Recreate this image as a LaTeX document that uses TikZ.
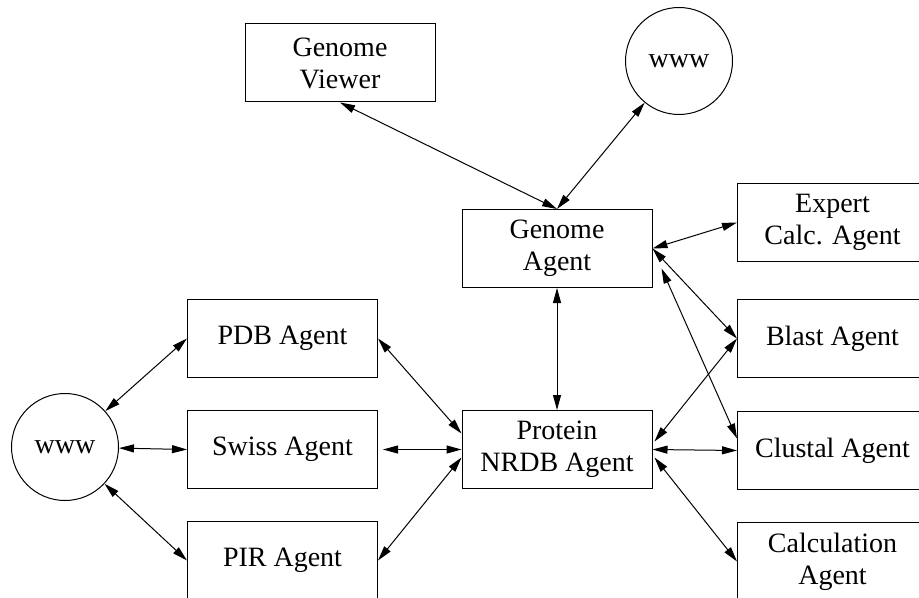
\documentclass[tikz,border=0pt]{standalone}
\usepackage{fontspec}
\setmainfont{Liberation Serif}
\usetikzlibrary{arrows.meta,calc}
\begin{document}
\begin{tikzpicture}[x=.5pt, y=-.5pt, line width=.5pt,
  agent/.style={draw, align=center, minimum width=95pt, minimum height=39pt, inner sep=0pt, font=\fontsize{14}{16}\selectfont},
  web/.style={draw, circle, minimum size=53.5pt, inner sep=0pt, font=\fontsize{14}{16}\selectfont},
  link/.style={{Triangle[length=7.5pt,width=4pt]}-{Triangle[length=7.5pt,width=4pt]}}]
\useasboundingbox (0,0) rectangle (919,598);
\clip (0,0) rectangle (919,598);
\node[web] (wwwleft) at (65,447) {www};
\node[web] (wwwtop) at (679,61) {www};
\node[agent] (viewer) at (340,63) {Genome\\Viewer};
\node[agent] (genome) at (557,248.5) {Genome\\Agent};
\node[agent] (nrdb) at (557,449.5) {Protein\\NRDB Agent};
\node[agent] (pdb) at (282.5,338.5) {PDB Agent};
\node[agent] (swiss) at (282.5,449.5) {Swiss Agent};
\node[agent] (pir) at (282.5,560.5) {PIR Agent};
\node[agent] (expert) at (832.5,222.5) {Expert\\Calc. Agent};
\node[agent] (blast) at (832.5,338.5) {Blast Agent};
\node[agent] (clustal) at (832.5,450.5) {Clustal Agent};
\node[agent] (calc) at (832.5,561.5) {Calculation\\Agent};

\draw[link](viewer.south)--(genome.north);
\draw[link](wwwtop)--(genome.north);
\draw[link](genome.east)--(expert.west);
\draw[link](genome.east)--(blast.west);
\draw[link]($(genome.east)+(9,20)$)--($(clustal.west)+(0,-12)$);
\draw[link](genome.south)--(nrdb.north);
\draw[link]($(nrdb.east)+(2,-8)$)--(blast.west);
\draw[link](nrdb.east)--(clustal.west);
\draw[link]($(nrdb.east)+(2,8)$)--(calc.west);
\draw[link](pdb.east)--($(nrdb.west)+(0,-16)$);
\draw[link, shorten <=2.5pt](swiss.east)--(nrdb.west);
\draw[link](pir.east)--($(nrdb.west)+(0,8)$);
\draw[link](wwwleft)--(pdb.west);
\draw[link](wwwleft)--(swiss.west);
\draw[link](wwwleft)--(pir.west);

\end{tikzpicture}
\end{document}
